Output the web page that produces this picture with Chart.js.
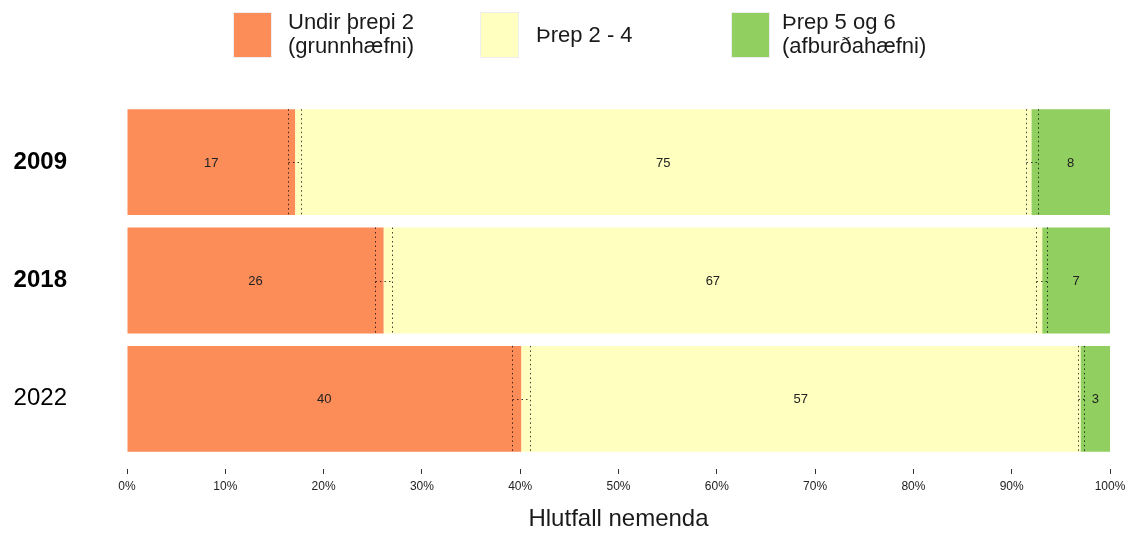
<!DOCTYPE html>
<html>
<head>
<meta charset="utf-8">
<script src="https://cdn.jsdelivr.net/npm/chart.js@4"></script>
<style>
  body { margin: 0; background: #fff; font-family: "Liberation Sans", Arial, sans-serif; }
  #wrap { position: relative; width: 1131px; height: 536px; }
  .box { position: absolute; top: 12px; width: 39px; height: 46px; box-sizing: border-box; border: 1px solid #eee; }
  .lbl { position: absolute; font-size: 22px; line-height: 24px; color: #1a1a1a; white-space: nowrap; }
</style>
</head>
<body>
<div id="wrap">
  <canvas id="myChart" width="1131" height="536"></canvas>
  <div class="box" style="left:233px;background:#FC8D59"></div>
  <div class="lbl" style="left:288px;top:10px">Undir þrepi 2<br>(grunnhæfni)</div>
  <div class="box" style="left:480px;background:#FFFFBF"></div>
  <div class="lbl" style="left:536px;top:23px">Þrep 2 - 4</div>
  <div class="box" style="left:731px;background:#91CF60"></div>
  <div class="lbl" style="left:782px;top:10px">Þrep 5 og 6<br>(afburðahæfni)</div>
</div>
<script>
// Years and share of students per level (%)
const years = ['2009', '2018', '2022'];
const under2 = [17.1, 26.1, 40.1];
const level24 = [74.9, 67.0, 56.9];
const level56 = [8.0, 6.9, 3.0];

// Confidence intervals for the two cumulative boundaries
const lowBoundLo = [16.4, 25.2, 39.2];
const lowBoundHi = [17.7, 27.0, 41.0];
const highBoundLo = [91.5, 92.5, 96.7];
const highBoundHi = [92.7, 93.6, 97.4];

const xTicks = [0, 10, 20, 30, 40, 50, 60, 70, 80, 90, 100];

// Numbers in the middle of each segment
const valueLabels = {
    id: 'valueLabels',
    afterDatasetsDraw(chart) {
        const ctx = chart.ctx;
        ctx.save();
        ctx.font = '13px "Liberation Sans", Arial, sans-serif';
        ctx.fillStyle = '#222';
        ctx.textAlign = 'center';
        ctx.textBaseline = 'middle';
        chart.data.datasets.forEach((ds, i) => {
            chart.getDatasetMeta(i).data.forEach((bar, j) => {
                ctx.fillText(Math.round(ds.data[j]), (bar.x + bar.base) / 2, bar.y + 1);
            });
        });
        ctx.restore();
    }
};

// Dotted error bars on the boundaries between levels
const errorBars = {
    id: 'errorBars',
    afterDatasetsDraw(chart) {
        const ctx = chart.ctx;
        const xs = chart.scales.x;
        const meta = chart.getDatasetMeta(0);
        ctx.save();
        ctx.strokeStyle = 'rgba(0,0,0,0.75)';
        ctx.lineWidth = 1;
        ctx.setLineDash([1.5, 3]);
        meta.data.forEach((bar, j) => {
            const top = bar.y - bar.height / 2;
            const bottom = bar.y + bar.height / 2;
            [[lowBoundLo[j], lowBoundHi[j]], [highBoundLo[j], highBoundHi[j]]].forEach(([lo, hi]) => {
                const x1 = Math.round(xs.getPixelForValue(lo)) + 0.5;
                const x2 = Math.round(xs.getPixelForValue(hi)) + 0.5;
                ctx.beginPath();
                ctx.moveTo(x1, top); ctx.lineTo(x1, bottom);
                ctx.moveTo(x2, top); ctx.lineTo(x2, bottom);
                ctx.moveTo(x1, Math.round(bar.y) + 0.5); ctx.lineTo(x2, Math.round(bar.y) + 0.5);
                ctx.stroke();
            });
        });
        ctx.restore();
    }
};

const ctx = document.getElementById('myChart').getContext('2d');
new Chart(ctx, {
    type: 'bar',
    data: {
        labels: years,
        datasets: [
            { label: 'Undir þrepi 2 (grunnhæfni)', data: under2, backgroundColor: '#FC8D59' },
            { label: 'Þrep 2 - 4', data: level24, backgroundColor: '#FFFFBF' },
            { label: 'Þrep 5 og 6 (afburðahæfni)', data: level56, backgroundColor: '#91CF60' }
        ]
    },
    options: {
        indexAxis: 'y',
        responsive: false,
        animation: false,
        barPercentage: 0.895,
        categoryPercentage: 1,
        layout: { padding: { top: 103, right: 21, left: 0, bottom: 0 } },
        plugins: {
            legend: { display: false },
            tooltip: { enabled: false }
        },
        scales: {
            x: {
                stacked: true,
                min: 0,
                max: 100,
                afterBuildTicks: axis => { axis.ticks = xTicks.map(v => ({ value: v })); },
                afterFit: axis => { axis.height = 78; },
                grid: {
                    drawOnChartArea: false,
                    tickLength: 16,
                    tickColor: '#333',
                    tickWidth: 1,
                    tickBorderDash: [0, 11, 5, 100]
                },
                border: { display: false },
                ticks: {
                    padding: 5,
                    color: '#222',
                    font: { size: 12, family: '"Liberation Sans", Arial, sans-serif' },
                    callback: v => v + '%',
                    maxRotation: 0
                },
                title: {
                    display: true,
                    text: 'Hlutfall nemenda',
                    color: '#1a1a1a',
                    font: { size: 24, family: '"Liberation Sans", Arial, sans-serif' },
                    padding: { top: 0, bottom: 2 }
                }
            },
            y: {
                stacked: true,
                afterFit: axis => { axis.width = 127; },
                grid: { display: false },
                border: { display: false },
                ticks: {
                    padding: 52,
                    color: '#000',
                    font: c => ({
                        size: 24,
                        family: '"Liberation Sans", Arial, sans-serif',
                        weight: c.index < 2 ? 'bold' : 'normal'
                    })
                }
            }
        }
    },
    plugins: [valueLabels, errorBars]
});
</script>
</body>
</html>
